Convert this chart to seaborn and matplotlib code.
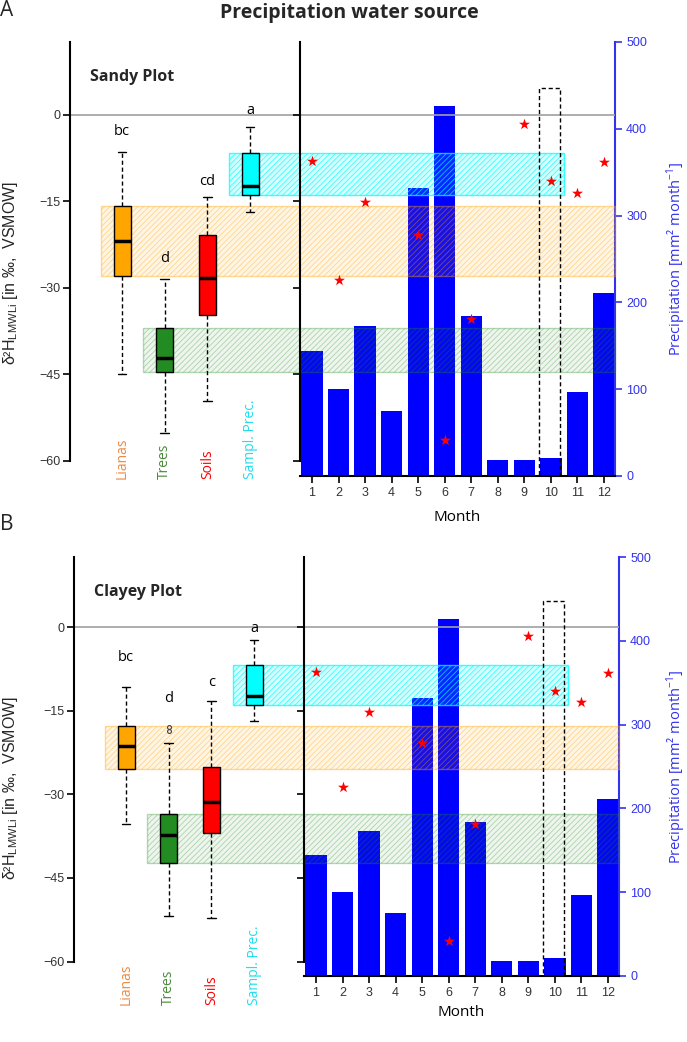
import matplotlib
matplotlib.use('Agg')
import matplotlib.pyplot as plt
import matplotlib.transforms as mtransforms
from matplotlib.patches import Rectangle
import seaborn as sns
import pandas as pd

sns.set_theme(style='ticks')
plt.rcParams['font.family'] = ['Open Sans', 'DejaVu Sans']
plt.rcParams['hatch.linewidth'] = 0.6

# ---- data ----
groups = ['Lianas', 'Trees', 'Soils', 'Sampl. Prec.']
group_colors = ['#FFA500', '#228B22', '#FF0000', '#00FFFF']
label_colors = ['#EE8A40', '#4A8A3A', '#FF0000', '#22DDEE']

# boxes given as (lower whisker, Q1, median, Q3, upper whisker)
sandy_lianas = [-44.9, -27.9, -21.8, -15.9, -6.4]
sandy_trees = [-55.2, -44.6, -42.2, -37.0, -28.5]
sandy_soils = [-49.6, -34.7, -28.3, -20.9, -14.2]
sandy_prec = [-16.8, -13.9, -12.4, -6.6, -2.2]
sandy_letters = ['bc', 'd', 'cd', 'a']
sandy_letter_y = [-2.9, -25.0, -11.6, 0.7]

clayey_lianas = [-35.3, -25.4, -21.4, -17.8, -10.8]
# 13 values so the quartiles fall on the read values, two outliers above the whisker
clayey_trees = [-51.9, -48.5, -45.0, -42.3, -40.5, -38.8, -37.3, -36.0, -34.8,
                -33.5, -20.7, -18.7, -17.9]
clayey_soils = [-52.2, -36.9, -31.3, -25.0, -13.3]
clayey_prec = [-16.9, -13.9, -12.4, -6.7, -2.3]
clayey_letters = ['bc', 'd', 'c', 'a']
clayey_letter_y = [-5.4, -12.8, -9.9, -0.2]

months = [1, 2, 3, 4, 5, 6, 7, 8, 9, 10, 11, 12]
precip = [144, 100, 173, 75, 332, 426, 184, 18, 18, 21, 97, 211]

# monthly d2H of precipitation (red stars)
star_months = [1, 2, 3, 5, 6, 7, 9, 10, 11, 12]
star_d2h = [-8.0, -28.7, -15.2, -20.8, -56.4, -35.4, -1.6, -11.4, -13.5, -8.2]

sampling_month = 10
sampling_box_top = 447

band_groups = ['Lianas', 'Trees', 'Sampl. Prec.']
band_alpha = {'Lianas': (0.10, 0.40), 'Trees': (0.08, 0.32),
              'Sampl. Prec.': (0.16, 0.75)}

W, H = 687, 1042
YLIM = (-62.6, 12.6)
LEFT_TICKS = [-60, -45, -30, -15, 0]
PREC_TICKS = [0, 100, 200, 300, 400, 500]
BLUE = '#3333EE'


def fig_rect(x0, x1, y_top, y_bot):
    return [x0 / W, 1 - y_bot / H, (x1 - x0) / W, (y_bot - y_top) / H]


def draw_panel(fig, px, box_data, letters, letter_y, plot_name, panel_letter,
               label_bottom, month_pad):
    x0, xm, x1, yt, yb = px

    ax2 = fig.add_axes(fig_rect(xm, x1, yt, yb))   # bars, precipitation scale
    ax1 = fig.add_axes(fig_rect(x0, xm, yt, yb))   # boxplots
    ax3 = ax2.twinx()                              # stars, isotope scale
    ax2.set_zorder(1)
    ax1.set_zorder(2)
    ax3.set_zorder(3)
    ax1.patch.set_visible(False)
    ax3.patch.set_visible(False)

    # --- boxplots ---
    df = pd.DataFrame({
        'group': [g for g, v in zip(groups, box_data) for _ in v],
        'value': [x for v in box_data for x in v],
    })
    sns.boxplot(data=df, x='group', y='value', hue='group', order=groups,
                hue_order=groups, palette=group_colors, saturation=1,
                width=0.4, linecolor='black', linewidth=1, legend=False,
                whiskerprops=dict(linestyle=(0, (3, 2))),
                medianprops=dict(linewidth=2.5),
                flierprops=dict(marker='o', markersize=2.8,
                                markerfacecolor='none',
                                markeredgecolor='#444444',
                                markeredgewidth=0.8),
                ax=ax1)
    ax1.set_xlim(-1.22, 4.17)
    ax1.set_ylim(YLIM)
    ax1.set_yticks(LEFT_TICKS)
    ax1.set_xticks([])
    ax1.set_xlabel('')
    ax1.set_ylabel('')
    for s in ['top', 'right', 'bottom']:
        ax1.spines[s].set_visible(False)
    ax1.spines['left'].set_bounds(-60, YLIM[1])
    ax1.spines['left'].set_color('black')
    ax1.spines['left'].set_linewidth(1.5)
    ax1.tick_params(axis='y', direction='out', length=5, width=1.2,
                    color='black', labelsize=9, labelcolor='#333333', pad=2)
    for t in ax1.get_yticklabels():
        t.set_family('Liberation Sans')
    ax1.axhline(0, color='#A0A0A0', lw=1.2, zorder=0.3)

    for i, (lt, ly) in enumerate(zip(letters, letter_y)):
        ax1.text(i, ly, lt, ha='center', va='center', fontsize=10.5,
                 color='black')

    trans = mtransforms.blended_transform_factory(ax1.transData, ax1.transAxes)
    yb_axes = (yb - label_bottom) / (yb - yt)
    for i, (g, c) in enumerate(zip(groups, label_colors)):
        ax1.text(i, yb_axes, g, rotation=90, ha='center', va='bottom',
                 fontsize=10, color=c, transform=trans)

    # --- monthly precipitation bars ---
    sns.barplot(x=months, y=precip, color='#0000FF', saturation=1, width=0.8,
                native_scale=True, linewidth=0, ax=ax2)
    ax2.set_xlim(0.547, 12.415)
    ax2.set_ylim(0, 500)
    ax2.set_xticks(months)
    ax2.set_xticklabels([str(m) for m in months])
    ax2.set_yticks(PREC_TICKS)
    ax2.yaxis.tick_right()
    ax2.yaxis.set_label_position('right')
    ax2.spines['left'].set_visible(False)
    ax2.spines['top'].set_visible(False)
    ax2.spines['right'].set_color(BLUE)
    ax2.spines['right'].set_linewidth(1.5)
    ax2.spines['bottom'].set_color('black')
    ax2.spines['bottom'].set_linewidth(1.5)
    ax2.tick_params(axis='y', direction='out', length=5, width=1.2,
                    color=BLUE, labelcolor=BLUE, labelsize=9, pad=3)
    ax2.tick_params(axis='x', direction='out', length=5, width=1.2,
                    color='black', labelcolor='#333333', labelsize=9, pad=3)
    for t in ax2.get_xticklabels() + ax2.get_yticklabels():
        t.set_family('Liberation Sans')
    ax2.set_xlabel('Month', fontsize=11, labelpad=month_pad, color='black')
    ax2.set_ylabel('')

    # --- isotope scale over the bars ---
    ax3.set_ylim(YLIM)
    ax3.set_yticks(LEFT_TICKS)
    ax3.yaxis.tick_left()
    ax3.tick_params(axis='y', direction='out', length=5, width=1.2,
                    color='black', labelleft=False, labelright=False,
                    left=True, right=False)
    for s in ['top', 'right', 'bottom']:
        ax3.spines[s].set_visible(False)
    ax3.spines['left'].set_bounds(-60, YLIM[1])
    ax3.spines['left'].set_color('black')
    ax3.spines['left'].set_linewidth(1.5)
    ax3.axhline(0, color='#A0A0A0', lw=1.2, zorder=0.3)
    sns.scatterplot(x=star_months, y=star_d2h, marker='*', s=70, color='red',
                    linewidth=0, zorder=4, ax=ax3)
    ax3.set_ylabel('')

    ax3.add_patch(Rectangle((sampling_month - 0.45, 0), 0.78, sampling_box_top,
                            transform=ax2.transData, fill=False, ec='black',
                            lw=1, ls=(0, (3, 2)), zorder=3))

    # --- hatched IQR bands across the panel ---
    to_ax1 = ax1.transData.inverted()
    x_right = to_ax1.transform(ax2.transAxes.transform((1, 0)))[0]
    x_month = to_ax1.transform(ax2.transData.transform((sampling_month + 0.5, 0)))[0]
    for g in band_groups:
        i = groups.index(g)
        vals = sorted(box_data[i])
        n = len(vals)
        q1 = vals[(n - 1) // 4]
        q3 = vals[3 * (n - 1) // 4]
        c = matplotlib.colors.to_rgb(group_colors[i])
        xe = x_month if g == 'Sampl. Prec.' else x_right
        fa, ea = band_alpha[g]
        ax1.add_patch(Rectangle((i - 0.5, q1), xe - (i - 0.5), q3 - q1,
                                facecolor=c + (fa,), edgecolor=c + (ea,),
                                hatch='//////', lw=1, zorder=0.5,
                                clip_on=False))

    fig.text(x0 / W + 20 / W, 1 - (yt + 35) / H, plot_name, fontsize=11.5,
             fontweight='bold', ha='left', va='center')
    fig.text(0.0, 1 - (yt - 32) / H, panel_letter, fontsize=15,
             ha='left', va='center')
    fig.text(11 / W, 1 - (yt + 231) / H,
             'δ²H$_{\\mathregular{LMWLi}}$ [in ‰,  VSMOW]', rotation=90,
             ha='center', va='center', fontsize=11.5,
             family=['Liberation Sans', 'DejaVu Sans'])
    fig.text(676 / W, 1 - ((yt + yb) / 2) / H,
             'Precipitation [mm² month$^{\\mathregular{-1}}$]', rotation=90,
             ha='center', va='center', fontsize=10.5, color=BLUE)


fig = plt.figure(figsize=(W / 100, H / 100), dpi=100)
fig.text(349 / W, 1 - 13 / H, 'Precipitation water source', fontsize=14,
         fontweight='bold', ha='center', va='center')

draw_panel(fig, (70, 300, 615, 42, 476),
           [sandy_lianas, sandy_trees, sandy_soils, sandy_prec],
           sandy_letters, sandy_letter_y, 'Sandy Plot', 'A', 479, 8)
draw_panel(fig, (74, 304, 619, 557, 976),
           [clayey_lianas, clayey_trees, clayey_soils, clayey_prec],
           clayey_letters, clayey_letter_y, 'Clayey Plot', 'B', 1005, 4)

fig.savefig('out.png', dpi=100)
